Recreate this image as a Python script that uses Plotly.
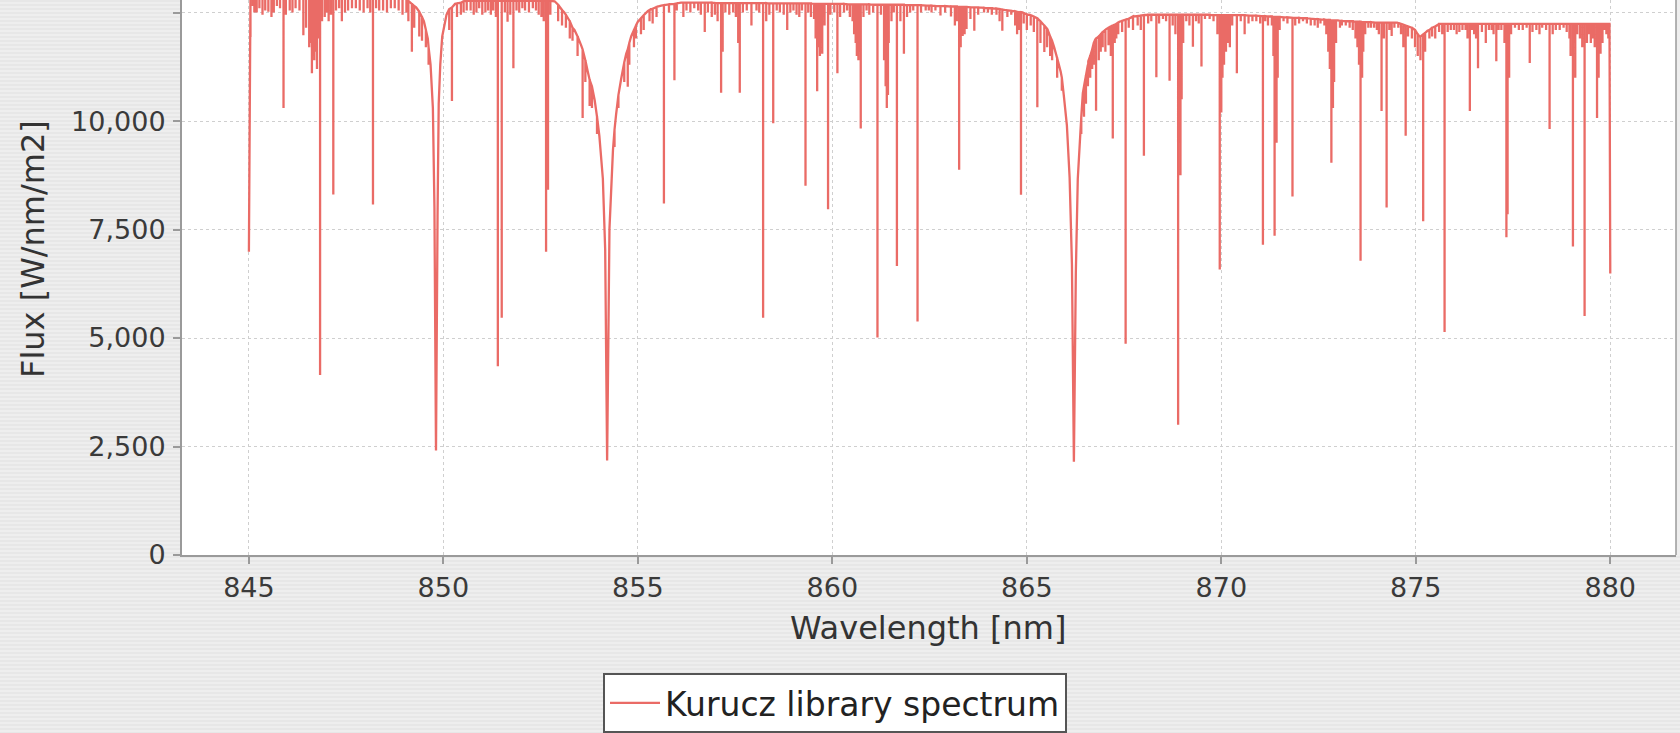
import plotly.graph_objects as go

# Pseudo-continuum with the Ca II triplet profiles (wavelength in nm, flux in W/nm/m2)
env_nm = [845.00, 845.02, 849.00, 849.30, 849.50, 849.60, 849.67, 849.73, 849.77, 849.81,
          849.85, 849.88, 849.92, 849.97, 850.08, 850.30, 850.60, 852.86, 853.11, 853.37,
          853.54, 853.71, 853.89, 854.01, 854.10, 854.16, 854.21, 854.27, 854.36, 854.44,
          854.57, 854.70, 854.83, 855.00, 855.26, 855.60, 856.11, 859.00, 862.00, 864.00,
          864.90, 865.27, 865.53, 865.70, 865.87, 865.95, 866.03, 866.10, 866.16, 866.21,
          866.26, 866.31, 866.36, 866.44, 866.58, 866.76, 867.04, 867.38, 867.73, 868.10,
          870.50, 872.00, 873.00, 874.50, 874.90, 875.10, 875.30, 875.60, 879.98, 880.00]
env_flux = [6990, 12850, 12840, 12620, 12300, 11900, 11300, 10300, 8000, 2410,
            7800, 10400, 11300, 11950, 12450, 12700, 12770, 12760, 12500, 12100,
            11750, 11150, 10480, 9660, 8670, 7030, 2180, 7520, 9330, 10150,
            10970, 11550, 11960, 12290, 12540, 12660, 12730, 12710, 12670, 12600,
            12500, 12370, 12120, 11710, 11140, 10600, 9900, 8700, 6700, 2150,
            6500, 8670, 9490, 10645, 11380, 11880, 12120, 12290, 12410, 12450,
            12440, 12380, 12320, 12270, 12150, 11950, 12080, 12240, 12240, 6490]

# Strong metal lines: centre wavelength, local continuum level, line-core flux
line_nm = [845.04, 845.20, 845.35, 845.50, 845.58, 845.72, 845.89, 846.05, 846.20, 846.40,
           846.55, 846.62, 846.68, 846.75, 846.83, 846.95, 847.05, 847.17, 847.39, 847.55,
           847.75, 847.95, 848.19, 848.35, 848.55, 848.75, 848.95, 849.10, 849.19, 849.38,
           849.45, 850.22, 850.45, 850.60, 850.85, 851.00, 851.15, 851.40, 851.50, 851.65,
           851.80, 851.95, 852.10, 852.30, 852.45, 852.64, 852.69, 853.05, 853.25, 853.58,
           853.76, 854.74, 854.90, 855.15, 855.38, 855.67, 855.94, 856.17, 856.35, 856.55,
           856.72, 856.90, 857.05, 857.14, 857.18, 857.35, 857.45, 857.58, 857.62, 857.92,
           858.05, 858.22, 858.30, 858.48, 858.65, 858.84, 859.00, 859.15, 859.31, 859.45,
           859.61, 859.68, 859.74, 859.89, 860.13, 860.30, 860.45, 860.60, 860.67, 860.73,
           860.95, 861.16, 861.40, 861.45, 861.66, 861.75, 861.84, 862.00, 862.19, 862.40,
           862.55, 862.78, 863.05, 863.15, 863.26, 863.35, 863.45, 863.65, 863.90, 864.10,
           864.37, 864.60, 864.80, 864.85, 865.10, 865.27, 865.45, 865.60, 865.78, 866.52,
           866.78, 866.90, 867.21, 867.30, 867.54, 867.73, 868.01, 868.20, 868.33, 868.50,
           868.67, 868.89, 868.95, 869.10, 869.27, 869.49, 869.70, 869.96, 870.00, 870.12,
           870.22, 870.40, 870.60, 870.80, 871.07, 871.20, 871.37, 871.42, 871.60, 871.83,
           872.00, 872.20, 872.40, 872.55, 872.75, 872.83, 872.90, 873.10, 873.30, 873.45,
           873.58, 873.65, 873.85, 874.00, 874.12, 874.25, 874.38, 874.55, 874.74, 874.90,
           875.19, 875.35, 875.50, 875.74, 875.90, 876.05, 876.20, 876.39, 876.50, 876.60,
           876.80, 876.95, 877.07, 877.20, 877.33, 877.36, 877.55, 877.75, 877.93, 878.10,
           878.25, 878.44, 878.60, 878.80, 878.95, 879.04, 879.10, 879.34, 879.40, 879.55,
           879.66, 879.75, 879.85]
line_top = [12850, 12850, 12850, 12850, 12850, 12850, 12850, 12850, 12850, 12850,
            12850, 12850, 12850, 12850, 12850, 12850, 12850, 12850, 12850, 12850,
            12850, 12850, 12850, 12850, 12850, 12850, 12850, 12770, 12700, 12520,
            12400, 12620, 12730, 12770, 12770, 12770, 12770, 12770, 12770, 12770,
            12770, 12770, 12770, 12770, 12770, 12770, 12770, 12560, 12300, 11650,
            10950, 11650, 12100, 12440, 12590, 12670, 12700, 12730, 12730, 12730,
            12730, 12730, 12720, 12720, 12720, 12720, 12720, 12720, 12720, 12720,
            12720, 12720, 12720, 12710, 12710, 12710, 12710, 12710, 12710, 12710,
            12700, 12700, 12700, 12700, 12700, 12700, 12690, 12690, 12690, 12690,
            12690, 12680, 12680, 12680, 12680, 12680, 12680, 12670, 12670, 12660,
            12660, 12650, 12640, 12640, 12630, 12630, 12630, 12620, 12610, 12600,
            12570, 12540, 12510, 12510, 12440, 12370, 12200, 11950, 11450, 11050,
            11900, 12000, 12200, 12240, 12340, 12410, 12440, 12450, 12450, 12450,
            12450, 12450, 12450, 12450, 12450, 12450, 12450, 12440, 12440, 12440,
            12440, 12440, 12440, 12430, 12420, 12410, 12400, 12400, 12390, 12380,
            12380, 12370, 12350, 12340, 12330, 12320, 12320, 12310, 12300, 12290,
            12290, 12280, 12280, 12270, 12270, 12270, 12270, 12260, 12200, 12150,
            12000, 12100, 12180, 12240, 12240, 12240, 12240, 12240, 12240, 12240,
            12240, 12240, 12240, 12240, 12240, 12240, 12240, 12240, 12240, 12240,
            12240, 12240, 12240, 12240, 12240, 12240, 12240, 12240, 12240, 12240,
            12240, 12240, 12240]
line_min = [11940, 12500, 12450, 12520, 12400, 12650, 10300, 12550, 12600, 11980,
            11700, 11100, 11400, 11200, 4150, 12400, 12300, 8310, 12300, 12550,
            12600, 12500, 8080, 12550, 12500, 12600, 12450, 12300, 11600, 11950,
            11850, 10460, 12450, 12550, 12500, 12450, 12550, 4350, 5470, 12290,
            11220, 12500, 12550, 12600, 12450, 6990, 8420, 12200, 11900, 10070,
            10350, 10790, 11700, 12100, 12250, 8100, 10940, 12400, 12500, 12550,
            12050, 12400, 12300, 10650, 11600, 12450, 12500, 11800, 10650, 12200,
            12550, 5470, 12300, 9950, 12500, 12100, 12550, 12400, 8510, 12400,
            10690, 11500, 11550, 7970, 11100, 12500, 12400, 11800, 11400, 9830,
            12450, 5010, 10300, 11800, 6660, 12300, 11550, 12500, 5380, 12550,
            12500, 12430, 12410, 12200, 8880, 11960, 12120, 12080, 12500, 12450,
            12080, 12450, 12100, 8300, 12200, 10320, 11590, 11500, 11000, 10400,
            10240, 11600, 9600, 11900, 4870, 12100, 9200, 12300, 11010, 12350,
            10930, 3000, 8750, 12300, 11710, 11260, 12350, 6580, 10200, 11600,
            11700, 11100, 12000, 12300, 7150, 12200, 7360, 9500, 12300, 8260,
            12250, 12250, 12200, 12250, 11600, 9040, 10900, 12200, 12150, 11900,
            6780, 11600, 12150, 12100, 10230, 8010, 11960, 12150, 9660, 11900,
            7690, 11900, 11900, 5140, 12100, 12000, 12100, 10230, 12000, 11220,
            11800, 12100, 11380, 12100, 7320, 7850, 12150, 12100, 11340, 12100,
            12150, 9820, 12100, 12150, 11900, 7110, 11000, 5510, 11800, 11900,
            10070, 11550, 12100]

# Weak blended lines that thicken the top of the spectrum
weak_nm = [845.10, 845.14, 845.27, 845.42, 845.64, 845.80, 845.95, 846.12, 846.30, 846.47,
           846.58, 846.65, 846.72, 846.78, 846.88, 847.00, 847.11, 847.24, 847.32, 847.47,
           847.65, 847.85, 848.05, 848.12, 848.27, 848.45, 848.65, 848.85, 849.05, 849.25,
           849.55, 849.62, 850.15, 850.35, 850.52, 850.70, 850.78, 850.92, 851.08, 851.22,
           851.28, 851.35, 851.58, 851.72, 851.88, 852.03, 852.20, 852.38, 852.52, 852.58,
           852.75, 852.95, 853.15, 853.32, 853.45, 853.65, 853.82, 853.95, 854.31, 854.40,
           854.50, 854.65, 854.78, 854.95, 855.08, 855.30, 855.48, 855.80, 856.00, 856.25,
           856.45, 856.62, 856.80, 856.98, 857.25, 857.52, 857.70, 857.80, 858.12, 858.38,
           858.57, 858.75, 858.92, 859.08, 859.22, 859.38, 859.53, 859.57, 859.65, 859.71,
           859.80, 859.95, 860.05, 860.20, 860.38, 860.52, 860.56, 860.63, 860.70, 860.80,
           860.88, 861.05, 861.25, 861.33, 861.37, 861.43, 861.52, 861.58, 861.92, 862.08,
           862.28, 862.48, 862.65, 862.90, 863.20, 863.30, 863.40, 863.55, 863.75, 864.00,
           864.22, 864.30, 864.50, 864.70, 864.75, 864.92, 865.00, 865.18, 865.35, 865.52,
           865.65, 865.90, 866.40, 866.47, 866.57, 866.63, 866.68, 866.72, 866.85, 866.95,
           867.02, 867.10, 867.16, 867.26, 867.35, 867.45, 867.62, 867.85, 867.93, 868.12,
           868.40, 868.58, 868.75, 868.82, 868.92, 868.98, 869.02, 869.18, 869.35, 869.42,
           869.58, 869.80, 869.90, 870.03, 870.07, 870.17, 870.28, 870.50, 870.70, 870.90,
           871.00, 871.13, 871.30, 871.34, 871.45, 871.50, 871.70, 871.90, 872.10, 872.30,
           872.48, 872.65, 872.70, 872.79, 872.87, 872.95, 873.05, 873.20, 873.38, 873.50,
           873.54, 873.62, 873.70, 873.78, 873.93, 874.05, 874.18, 874.32, 874.45, 874.62,
           874.68, 874.80, 874.98, 875.05, 875.12, 875.24, 875.42, 875.60, 875.68, 875.82,
           875.98, 876.12, 876.28, 876.33, 876.45, 876.55, 876.70, 876.88, 877.00, 877.13,
           877.28, 877.40, 877.45, 877.65, 877.85, 878.00, 878.18, 878.35, 878.52, 878.70,
           878.88, 878.98, 879.08, 879.15, 879.22, 879.28, 879.45, 879.50, 879.60, 879.70,
           879.80, 879.90, 879.95]
weak_top = [12850, 12850, 12850, 12850, 12850, 12850, 12850, 12850, 12850, 12850,
            12850, 12850, 12850, 12850, 12850, 12850, 12850, 12850, 12850, 12850,
            12850, 12850, 12850, 12850, 12850, 12850, 12850, 12850, 12820, 12650,
            12100, 11700, 12580, 12710, 12760, 12770, 12770, 12770, 12770, 12770,
            12770, 12770, 12770, 12770, 12770, 12770, 12770, 12770, 12770, 12770,
            12770, 12680, 12450, 12150, 11950, 11400, 10800, 10100, 8500, 9800,
            10600, 11350, 11800, 12200, 12370, 12560, 12630, 12690, 12710, 12730,
            12730, 12730, 12730, 12720, 12720, 12720, 12720, 12720, 12720, 12710,
            12710, 12710, 12710, 12710, 12710, 12710, 12700, 12700, 12700, 12700,
            12700, 12700, 12700, 12700, 12690, 12690, 12690, 12690, 12690, 12690,
            12690, 12680, 12680, 12680, 12680, 12680, 12680, 12680, 12670, 12670,
            12670, 12660, 12650, 12650, 12640, 12630, 12630, 12620, 12620, 12600,
            12590, 12580, 12550, 12530, 12520, 12490, 12460, 12410, 12300, 12130,
            11850, 11000, 10100, 10800, 11300, 11500, 11650, 11800, 11950, 12050,
            12100, 12150, 12180, 12220, 12270, 12310, 12360, 12420, 12430, 12450,
            12450, 12450, 12450, 12450, 12450, 12450, 12450, 12450, 12450, 12450,
            12450, 12440, 12440, 12440, 12440, 12440, 12440, 12440, 12430, 12430,
            12420, 12420, 12410, 12400, 12400, 12400, 12390, 12380, 12370, 12360,
            12350, 12340, 12330, 12330, 12320, 12320, 12310, 12300, 12300, 12290,
            12290, 12280, 12280, 12280, 12270, 12270, 12270, 12270, 12270, 12240,
            12220, 12180, 12100, 12000, 11950, 12030, 12150, 12240, 12240, 12240,
            12240, 12240, 12240, 12240, 12240, 12240, 12240, 12240, 12240, 12240,
            12240, 12240, 12240, 12240, 12240, 12240, 12240, 12240, 12240, 12240,
            12240, 12240, 12240, 12240, 12240, 12240, 12240, 12240, 12240, 12240,
            12240, 12240, 12240]
weak_min = [12650, 12500, 12600, 12550, 12500, 12600, 12450, 12500, 12550, 12150,
            11800, 11500, 11600, 11900, 12300, 12500, 12450, 12550, 12600, 12500,
            12600, 12550, 12600, 12500, 12600, 12550, 12600, 12550, 12500, 12150,
            11700, 11300, 12100, 12400, 12500, 12550, 12450, 12600, 12500, 12450,
            12550, 12400, 12500, 12450, 12550, 12600, 12500, 12550, 12400, 12300,
            12450, 12300, 12150, 11850, 11500, 10900, 10300, 9700, 8100, 9400,
            10300, 10900, 11300, 11900, 12000, 12300, 12400, 12500, 12550, 12550,
            12600, 12450, 12500, 12450, 12500, 12400, 12500, 12550, 12500, 12450,
            12550, 12450, 12500, 12450, 12550, 12500, 12350, 11900, 11700, 11800,
            12200, 12450, 12500, 12400, 12550, 12300, 12000, 11500, 11600, 12400,
            12550, 12500, 12450, 11400, 10800, 10600, 12300, 12500, 12400, 12550,
            12500, 12550, 12550, 12500, 12300, 11700, 12000, 12350, 12450, 12500,
            12450, 12300, 12400, 12200, 12000, 12250, 12100, 12050, 11800, 11700,
            11400, 10700, 9700, 10100, 10800, 11000, 11200, 11300, 11400, 11700,
            11600, 11750, 11500, 11800, 12000, 12050, 12150, 12200, 12100, 12250,
            12250, 12300, 12200, 12000, 9500, 10500, 11800, 12200, 12300, 12250,
            12350, 12300, 12000, 11000, 11300, 11800, 12200, 12300, 12250, 12300,
            12250, 12300, 12200, 11500, 11000, 12100, 12250, 12200, 12300, 12200,
            12150, 12200, 12000, 11200, 10300, 11800, 12150, 12200, 12100, 11700,
            11300, 11000, 12000, 12150, 12150, 12000, 11900, 12100, 12150, 12000,
            11700, 11950, 11700, 11500, 11400, 11600, 11950, 12050, 12000, 12050,
            12100, 12050, 12100, 11900, 12100, 11900, 12050, 12100, 12000, 12100,
            11800, 11000, 12000, 12100, 12150, 12050, 12000, 12100, 12000, 12100,
            12050, 11500, 11800, 12000, 11900, 11700, 12000, 11800, 11700, 11000,
            11800, 12000, 11900]

assert len(env_nm) == len(env_flux)
assert len(line_nm) == len(line_top) == len(line_min)
assert len(weak_nm) == len(weak_top) == len(weak_min)

# Merge continuum knots and line cores into one wavelength-ordered path;
# every line is a vertical drop from its local continuum to its core.
points = [(x, 0, y) for x, y in zip(env_nm, env_flux)]
for nm_list, top_list, min_list in ((line_nm, line_top, line_min),
                                    (weak_nm, weak_top, weak_min)):
    for x, top, low in zip(nm_list, top_list, min_list):
        points += [(x, 1, top), (x, 2, low), (x, 3, top)]
points.sort(key=lambda p: (p[0], p[1]))
wavelength = [p[0] for p in points]
flux = [p[2] for p in points]

y_ticks = [0, 2500, 5000, 7500, 10000, 12500]
x_ticks = [845, 850, 855, 860, 865, 870, 875, 880]

LINE_RED = "#ea6b66"
AXIS_GREY = "#9a9a9a"
GRID_GREY = "#cfcfcf"
FONT = "DejaVu Sans"

W, H = 1680, 733
ML, MR, MT, MB = 182, 4, 0, 178
PW, PH = W - ML - MR, H - MT - MB


def px_to_paper(px, py):
    return (px - ML) / PW, (H - MB - py) / PH


# Faint horizontal pinstripes on the window background (outside the plot area)
stripe_path = []
for py in range(0, H, 4):
    for x0, x1 in ((0, ML), (ML, W)):
        if x0 == ML and py + 2 <= H - MB:
            continue
        y_top = max(py, H - MB) if x0 == ML else py
        xa, ya = px_to_paper(x0, y_top)
        xb, yb = px_to_paper(x1, py + 2)
        if y_top >= py + 2:
            continue
        stripe_path.append(f"M{xa:.5f},{ya:.5f}H{xb:.5f}V{yb:.5f}H{xa:.5f}Z")

fig = go.Figure()
fig.add_trace(go.Scatter(
    x=wavelength, y=flux, mode="lines", name="Kurucz library spectrum",
    line=dict(color=LINE_RED, width=2.3),
))

leg_x, leg_y = px_to_paper(603, 673)
ylab_x, ylab_y = px_to_paper(33, 249)
xlab_x, xlab_y = px_to_paper(928, 628)

fig.update_layout(
    width=W, height=H,
    margin=dict(l=ML, r=MR, t=MT, b=MB),
    paper_bgcolor="#eeeeee",
    plot_bgcolor="#ffffff",
    font=dict(family=FONT, color="#3a3a3a"),
    showlegend=True,
    legend=dict(
        x=leg_x, y=leg_y, xanchor="left", yanchor="top",
        bgcolor="#ffffff", bordercolor="#555555", borderwidth=2,
        itemwidth=50,
        font=dict(family=FONT, size=33, color="#222222"),
    ),
    xaxis=dict(
        range=[843.28, 881.69], tickvals=x_ticks,
        ticks="outside", ticklen=7, tickcolor=AXIS_GREY, tickwidth=1.5,
        showline=True, linecolor=AXIS_GREY, linewidth=2,
        showgrid=True, gridcolor=GRID_GREY, griddash="dot", gridwidth=1,
        zeroline=False, tickfont=dict(size=27, color="#3a3a3a"),
        ticklabelstandoff=1,
    ),
    yaxis=dict(
        range=[0, 12790], tickvals=y_ticks, tickformat=",d",
        ticks="outside", ticklen=7, tickcolor=AXIS_GREY, tickwidth=1.5,
        showline=True, linecolor=AXIS_GREY, linewidth=2,
        showgrid=True, gridcolor=GRID_GREY, griddash="dot", gridwidth=1,
        zeroline=False, tickfont=dict(size=27, color="#3a3a3a"),
        ticklabelstandoff=2,
    ),
    annotations=[
        dict(text="Wavelength [nm]", xref="paper", yref="paper",
             x=xlab_x, y=xlab_y, xanchor="center", yanchor="middle",
             showarrow=False, font=dict(size=32, color="#333333")),
        dict(text="Flux [W/nm/m2]", xref="paper", yref="paper",
             x=ylab_x, y=ylab_y, xanchor="center", yanchor="middle",
             textangle=-90, showarrow=False, font=dict(size=32, color="#333333")),
    ],
    shapes=[
        dict(type="path", xref="paper", yref="paper", path="".join(stripe_path),
             fillcolor="#e7e7e7", line=dict(width=0), layer="below"),
        dict(type="line", xref="paper", yref="paper", x0=1, x1=1, y0=0, y1=1,
             line=dict(color=AXIS_GREY, width=1.5)),
    ],
)

fig.write_html("out.html")
